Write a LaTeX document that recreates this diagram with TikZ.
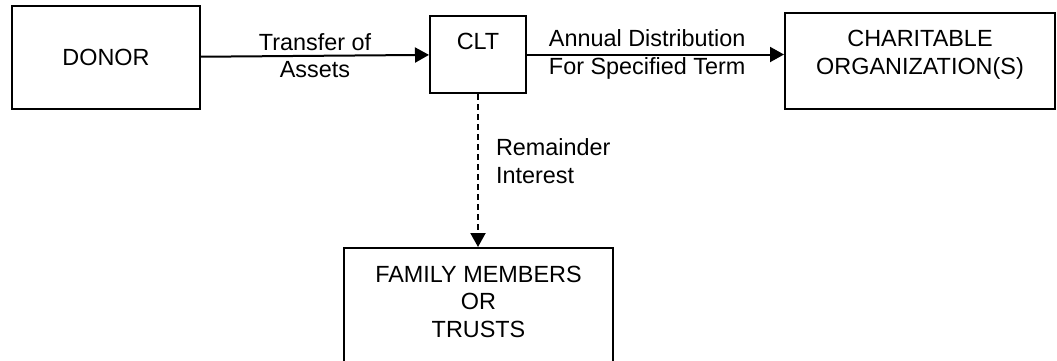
\documentclass[tikz,border=0pt]{standalone}
\usepackage{fontspec}
\setmainfont{Liberation Sans}
\usetikzlibrary{arrows.meta,
                positioning}
\tikzset{
       arr/.style = {-{Triangle[length=14pt, width=15pt]}, line width=2pt},   % <--- arrow heads
      base/.style = {draw, line width=2pt, inner sep=4pt, % <---
                     font=\fontsize{23.4}{27.5}\selectfont, align=center},
   process/.style = {base, rectangle},
       lbl/.style = {font=\fontsize{23.4}{27.5}\selectfont, inner sep=3pt},
    remain/.style = {arr, dash pattern=on 6pt off 4pt},
        }

\begin{document}
\begin{tikzpicture}[x=1pt, y=-1pt]
\useasboundingbox (0,0) rectangle (1057,360);

  \node[process, minimum width=188pt, minimum height=103pt] (donor) at (106,57.5) {DONOR};
  \node[process, anchor=north, minimum width=96pt,
        text height=29.3pt, text depth=39.7pt] (clt) at (478,15) {CLT};
  \node[process, anchor=north, minimum width=270pt,
        text height=57pt, text depth=30.5pt] (charity) at (920,12) {CHARITABLE\\ORGANIZATION(S)};
  \node[process, anchor=north, minimum width=269pt,
        text height=85pt, text depth=40pt] (family) at (478.5,247) {FAMILY MEMBERS\\OR\\TRUSTS};

  \draw[arr] (donor) -- node[lbl, align=center] {Transfer of\\Assets} (clt);
  \draw[arr] (clt) -- node[lbl, pos=0.07, anchor=west, align=left]
        {Annual Distribution\\For Specified Term} (clt -| charity.west);
  \draw[remain] (clt.south) -- node[lbl, pos=0.44, anchor=west, xshift=14pt, align=left]
        {Remainder\\Interest} (clt.south |- family.north);
\end{tikzpicture}
\end{document}
